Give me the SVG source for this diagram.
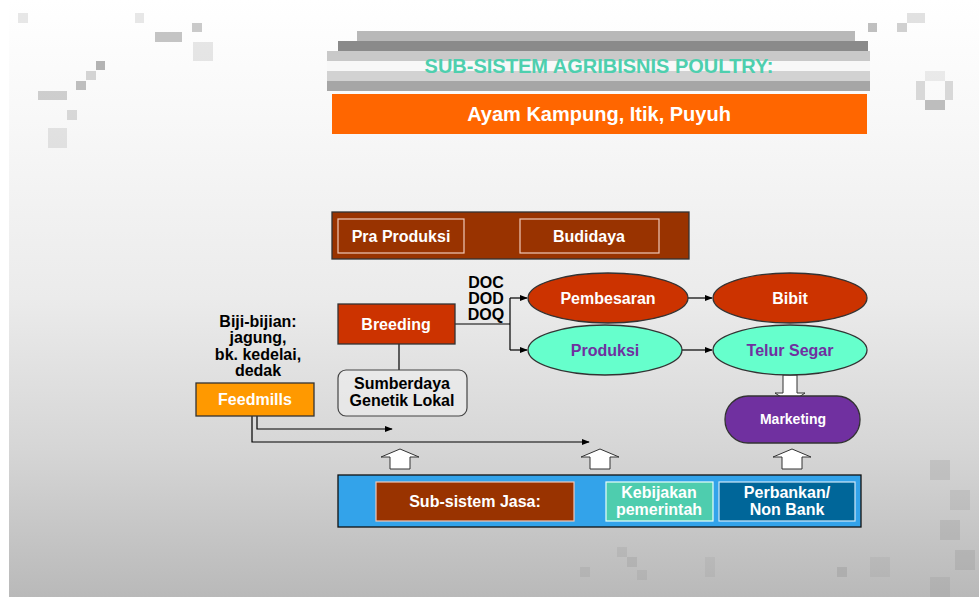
<svg xmlns="http://www.w3.org/2000/svg" width="979" height="597" viewBox="0 0 979 597">
<defs>
<linearGradient id="bg" x1="0" y1="0" x2="0" y2="1">
<stop offset="0" stop-color="#ffffff"/>
<stop offset="0.2" stop-color="#f8f8f8"/>
<stop offset="0.5" stop-color="#ebebeb"/>
<stop offset="0.75" stop-color="#d6d6d6"/>
<stop offset="1" stop-color="#b9b9b9"/>
</linearGradient>
<marker id="ah" viewBox="0 0 10 10" refX="9" refY="5" markerWidth="8" markerHeight="8" markerUnits="userSpaceOnUse" orient="auto">
<path d="M0,1 L10,5 L0,9 z" fill="#000"/>
</marker>
<path id="uparrow" d="M-10,20 L-10,8 L-19,8 L0,0 L19,8 L10,8 L10,20 Z"/>
</defs>
<style>
text{font-family:"Liberation Sans",Arial,sans-serif;font-weight:bold;text-anchor:middle}
.w{fill:#fff}
.k{fill:#000}
.p{fill:#7030a0}
.f15{font-size:16px}
.con{fill:none;stroke:#000;stroke-width:1.2}
.blk{fill:#fff;stroke:#333;stroke-width:1}
.dk{stroke:#333;stroke-width:1.3}
.lt{stroke:#f0c8b8;stroke-width:1.2}
.px{fill:#8c8c8c}
</style>

<rect x="0" y="0" width="979" height="597" fill="#fff"/>
<rect x="9" y="0" width="970" height="597" fill="url(#bg)"/>

<g id="decor">
<rect class="px" x="155" y="32" width="27" height="10" opacity="0.5"/>
<rect class="px" x="192" y="23" width="10" height="9" opacity="0.45"/>
<rect class="px" x="38" y="91" width="29" height="9" opacity="0.4"/>
<rect class="px" x="67" y="110" width="10" height="10" opacity="0.3"/>
<rect class="px" x="48" y="128" width="19" height="20" opacity="0.2"/>
<rect class="px" x="76" y="81" width="10" height="9" opacity="0.55"/>
<rect class="px" x="96" y="61" width="9" height="9" opacity="0.65"/>
<rect class="px" x="86" y="71" width="10" height="9" opacity="0.35"/>
<rect class="px" x="18" y="13" width="10" height="10" opacity="0.2"/>
<rect class="px" x="135" y="13" width="9" height="10" opacity="0.2"/>
<rect class="px" x="193" y="42" width="20" height="19" opacity="0.2"/>
<rect class="px" x="868" y="23" width="9" height="9" opacity="0.55"/>
<rect class="px" x="897" y="23" width="10" height="9" opacity="0.4"/>
<rect class="px" x="907" y="13" width="18" height="10" opacity="0.25"/>
<rect class="px" x="925" y="71" width="20" height="10" opacity="0.15"/>
<rect class="px" x="916" y="81" width="9" height="19" opacity="0.3"/>
<rect class="px" x="945" y="81" width="8" height="19" opacity="0.3"/>
<rect class="px" x="925" y="100" width="20" height="10" opacity="0.55"/>
<rect class="px" x="617" y="547" width="10" height="10" opacity="0.2"/>
<rect class="px" x="627" y="557" width="10" height="10" opacity="0.25"/>
<rect class="px" x="637" y="570" width="10" height="10" opacity="0.2"/>
<rect class="px" x="580" y="567" width="10" height="10" opacity="0.2"/>
<rect class="px" x="705" y="557" width="10" height="20" opacity="0.15"/>
<rect class="px" x="837" y="567" width="10" height="10" opacity="0.3"/>
<rect class="px" x="870" y="557" width="20" height="20" opacity="0.15"/>
<rect class="px" x="930" y="460" width="20" height="20" opacity="0.25"/>
<rect class="px" x="950" y="490" width="20" height="20" opacity="0.2"/>
<rect class="px" x="940" y="520" width="20" height="20" opacity="0.25"/>
<rect class="px" x="955" y="550" width="20" height="20" opacity="0.25"/>
<rect class="px" x="930" y="577" width="20" height="20" opacity="0.2"/>
</g>

<g id="title-banner">
<rect x="357" y="31" width="498" height="10" fill="#b8b8b8"/>
<rect x="338" y="41" width="530" height="10" fill="#8a8a8a"/>
<rect x="327" y="51" width="543" height="10" fill="#c9c9c9"/>
<rect x="327" y="61" width="543" height="10" fill="#f8f8f8"/>
<rect x="327" y="71" width="543" height="10" fill="#d2d2d2"/>
<rect x="327" y="81" width="543" height="10" fill="#a6a6a6"/>
<text x="599" y="73" font-size="20" fill="#4ecfae">SUB-SISTEM AGRIBISNIS POULTRY:</text>
</g>

<g id="subtitle">
<rect x="332" y="94" width="535" height="40" fill="#ff6600"/>
<text class="w" x="599" y="121" font-size="20">Ayam Kampung, Itik, Puyuh</text>
</g>

<g id="stage-bar">
<rect x="332" y="212" width="357" height="47" fill="#993300" class="dk"/>
<g id="pra-produksi">
<rect x="338" y="219" width="126" height="34" fill="none" class="lt"/>
<text class="w f15" x="401" y="242">Pra Produksi</text>
</g>
<g id="budidaya">
<rect x="520" y="219" width="139" height="34" fill="none" class="lt"/>
<text class="w f15" x="589" y="242">Budidaya</text>
</g>
</g>

<g id="connectors">
<polyline class="con" points="455,324 510,324"/>
<polyline class="con" points="510,298 510,350"/>
<line class="con" x1="510" y1="298" x2="527" y2="298" marker-end="url(#ah)"/>
<line class="con" x1="510" y1="350" x2="527" y2="350" marker-end="url(#ah)"/>
<line class="con" x1="688" y1="298" x2="712" y2="298" marker-end="url(#ah)"/>
<line class="con" x1="682" y1="350" x2="712" y2="350" marker-end="url(#ah)"/>
<line class="con" x1="399" y1="344" x2="399" y2="370"/>
<polyline class="con" points="257,416 257,429 392,429" marker-end="url(#ah)"/>
<polyline class="con" points="252,416 252,442 589,442" marker-end="url(#ah)"/>
<path class="blk" d="M783,375 L797,375 L797,393 L805,393 L790,403 L775,393 L783,393 Z"/>
<use href="#uparrow" x="400" y="449" class="blk"/>
<use href="#uparrow" x="600" y="449" class="blk"/>
<use href="#uparrow" x="792" y="449" class="blk"/>
<path class="blk" d="M574,497 L600,497 L600,491 L606,503.5 L600,516 L600,510 L574,510 Z"/>
</g>

<g id="doc-label">
<text class="k f15" x="486" y="288">DOC</text>
<text class="k f15" x="486" y="304">DOD</text>
<text class="k f15" x="486" y="320">DOQ</text>
</g>

<g id="breeding">
<rect x="338" y="304" width="117" height="40" fill="#cc3300" class="dk"/>
<text class="w f15" x="396" y="330">Breeding</text>
</g>

<g id="sumberdaya">
<rect x="338" y="370" width="129" height="46" rx="8" fill="#eeeeee" fill-opacity="0.6" stroke="#444" stroke-width="1.2"/>
<text class="k f15" x="402" y="389">Sumberdaya</text>
<text class="k f15" x="402" y="406">Genetik Lokal</text>
</g>

<g id="biji-bijian">
<text class="k f15" x="258" y="327">Biji-bijian:</text>
<text class="k f15" x="258" y="343">jagung,</text>
<text class="k f15" x="258" y="360">bk. kedelai,</text>
<text class="k f15" x="258" y="376">dedak</text>
</g>

<g id="feedmills">
<rect x="196" y="383" width="118" height="33" fill="#ff9900" class="dk"/>
<text class="w f15" x="255" y="405">Feedmills</text>
</g>

<g id="pembesaran">
<ellipse cx="608" cy="298" rx="80" ry="25" fill="#cc3300" class="dk"/>
<text class="w f15" x="608" y="304">Pembesaran</text>
</g>
<g id="bibit">
<ellipse cx="790" cy="298" rx="77" ry="25" fill="#cc3300" class="dk"/>
<text class="w f15" x="790" y="304">Bibit</text>
</g>
<g id="produksi">
<ellipse cx="605" cy="350" rx="77" ry="25" fill="#66ffcc" class="dk"/>
<text class="p f15" x="605" y="356">Produksi</text>
</g>
<g id="telur-segar">
<ellipse cx="790" cy="350" rx="77" ry="25" fill="#66ffcc" class="dk"/>
<text class="p f15" x="790" y="356">Telur Segar</text>
</g>

<g id="marketing">
<rect x="725" y="396" width="135" height="47" rx="23" fill="#7030a0" class="dk"/>
<text class="w" x="793" y="424" font-size="14">Marketing</text>
</g>

<g id="jasa-panel">
<rect x="338" y="475" width="523" height="52" fill="#33a3ea" stroke="#111" stroke-width="1.3"/>
</g>
<g id="sub-sistem-jasa">
<rect x="376" y="482" width="198" height="39" fill="#993300" class="lt"/>
<text class="w f15" x="475" y="507">Sub-sistem Jasa:</text>
</g>
<g id="kebijakan">
<rect x="606" y="482" width="107" height="39" fill="#4ecdae" stroke="#e8fff8" stroke-width="1.2"/>
<text class="w f15" x="659" y="498">Kebijakan</text>
<text class="w f15" x="659" y="515">pemerintah</text>
</g>
<g id="perbankan">
<rect x="719" y="482" width="136" height="39" fill="#006699" stroke="#cfe8f8" stroke-width="1.2"/>
<text class="w f15" x="787" y="498">Perbankan/</text>
<text class="w f15" x="787" y="515">Non Bank</text>
</g>
</svg>
